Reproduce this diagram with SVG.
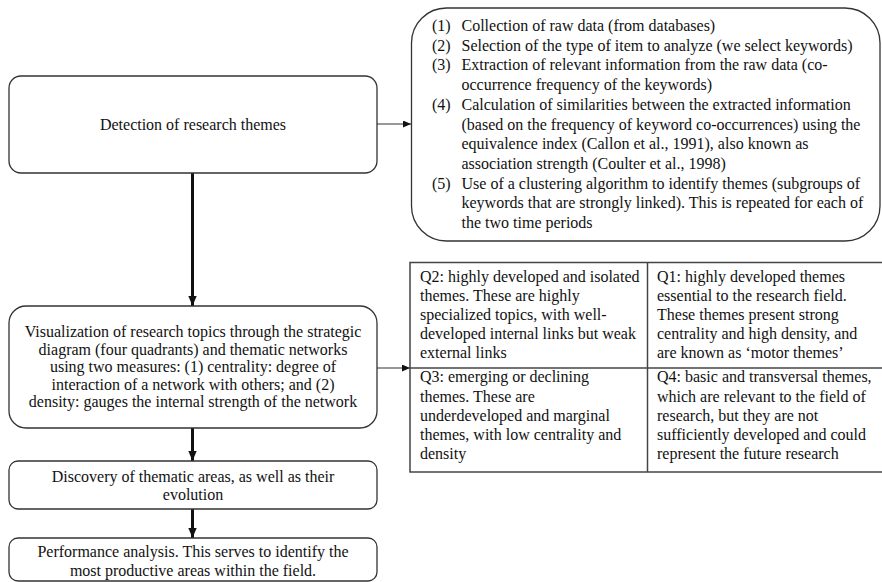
<svg xmlns="http://www.w3.org/2000/svg" width="882" height="582" viewBox="0 0 882 582">
<defs>
<style>
.box{fill:#fff;stroke:#333;stroke-width:1.3}
.t{font-family:"Liberation Serif","Times New Roman",serif;font-size:16px;fill:#111}
.c{text-anchor:middle}
.thin{stroke:#333;stroke-width:1.2;fill:none}
.thick{stroke:#111;stroke-width:3;fill:none}
.grid{stroke:#444;stroke-width:1.5;fill:none}
</style>
<marker id="ah" markerWidth="8" markerHeight="7" refX="8" refY="3.5" orient="auto" markerUnits="userSpaceOnUse">
<path d="M0,0 L8,3.5 L0,7 Z" fill="#111"/>
</marker>
<marker id="ahb" markerWidth="10" markerHeight="12" refX="12" refY="5" orient="auto" markerUnits="userSpaceOnUse" viewBox="0 0 12 10">
<path d="M0,0 L12,5 L0,10 Z" fill="#111"/>
</marker>
</defs>
<rect width="882" height="582" fill="#fff"/>

<g id="connectors">
<line class="thin" x1="377" y1="124" x2="411" y2="124" marker-end="url(#ah)"/>
<line class="thin" x1="377" y1="368" x2="410" y2="368" marker-end="url(#ah)"/>
<line class="thick" x1="192.5" y1="173" x2="192.5" y2="306" marker-end="url(#ahb)"/>
<line class="thick" x1="192.5" y1="428" x2="192.5" y2="461" marker-end="url(#ahb)"/>
<line class="thick" x1="192.5" y1="509" x2="192.5" y2="538" marker-end="url(#ahb)"/>
</g>

<g id="detection">
<rect class="box" x="9" y="76" width="368" height="97" rx="12"/>
<text class="t c" x="193" y="130">Detection of research themes</text>
</g>

<g id="steps">
<rect class="box" x="411.5" y="8" width="468.5" height="233" rx="35"/>
<g class="t">
<text x="432" y="31">(1)</text><text x="461.5" y="31">Collection of raw data (from databases)</text>
<text x="432" y="50.7">(2)</text><text x="461.5" y="50.7">Selection of the type of item to analyze (we select keywords)</text>
<text x="432" y="70.4">(3)</text><text x="461.5" y="70.4">Extraction of relevant information from the raw data (co-</text>
<text x="461.5" y="90.1">occurrence frequency of the keywords)</text>
<text x="432" y="109.8">(4)</text><text x="461.5" y="109.8">Calculation of similarities between the extracted information</text>
<text x="461.5" y="129.5">(based on the frequency of keyword co-occurrences) using the</text>
<text x="461.5" y="149.2">equivalence index (Callon et al., 1991), also known as</text>
<text x="461.5" y="168.9">association strength (Coulter et al., 1998)</text>
<text x="432" y="188.6">(5)</text><text x="461.5" y="188.6">Use of a clustering algorithm to identify themes (subgroups of</text>
<text x="461.5" y="208.3">keywords that are strongly linked). This is repeated for each of</text>
<text x="461.5" y="228">the two time periods</text>
</g>
</g>

<g id="visualization">
<rect class="box" x="9" y="306" width="368" height="122" rx="17"/>
<g class="t c">
<text x="193" y="337">Visualization of research topics through the strategic</text>
<text x="193" y="354.5">diagram (four quadrants) and thematic networks</text>
<text x="193" y="372">using two measures: (1) centrality: degree of</text>
<text x="193" y="389.5">interaction of a network with others; and (2)</text>
<text x="193" y="407">density: gauges the internal strength of the network</text>
</g>
</g>

<g id="discovery">
<rect class="box" x="9" y="461" width="368" height="48" rx="9"/>
<g class="t c">
<text x="193" y="481.5">Discovery of thematic areas, as well as their</text>
<text x="193" y="500">evolution</text>
</g>
</g>

<g id="performance">
<rect class="box" x="9" y="538" width="368" height="43" rx="9"/>
<g class="t c">
<text x="193" y="556.5">Performance analysis. This serves to identify the</text>
<text x="193" y="575.5">most productive areas within the field.</text>
</g>
</g>

<g id="quadrants">
<rect class="grid" x="410" y="262.5" width="480" height="209.5"/>
<line class="grid" x1="410" y1="368" x2="882" y2="368"/>
<line class="grid" x1="647.5" y1="262.5" x2="647.5" y2="472"/>
<g class="t">
<text x="420" y="281.7">Q2: highly developed and isolated</text>
<text x="420" y="300.8">themes. These are highly</text>
<text x="420" y="319.9">specialized topics, with well-</text>
<text x="420" y="339">developed internal links but weak</text>
<text x="420" y="358.1">external links</text>
<text x="657" y="281.7">Q1: highly developed themes</text>
<text x="657" y="300.8">essential to the research field.</text>
<text x="657" y="319.9">These themes present strong</text>
<text x="657" y="339">centrality and high density, and</text>
<text x="657" y="358.1">are known as ‘motor themes’</text>
<text x="420" y="382.4">Q3: emerging or declining</text>
<text x="420" y="401.5">themes. These are</text>
<text x="420" y="420.6">underdeveloped and marginal</text>
<text x="420" y="439.7">themes, with low centrality and</text>
<text x="420" y="458.8">density</text>
<text x="657" y="382.4">Q4: basic and transversal themes,</text>
<text x="657" y="401.5">which are relevant to the field of</text>
<text x="657" y="420.6">research, but they are not</text>
<text x="657" y="439.7">sufficiently developed and could</text>
<text x="657" y="458.8">represent the future research</text>
</g>
</g>
</svg>
